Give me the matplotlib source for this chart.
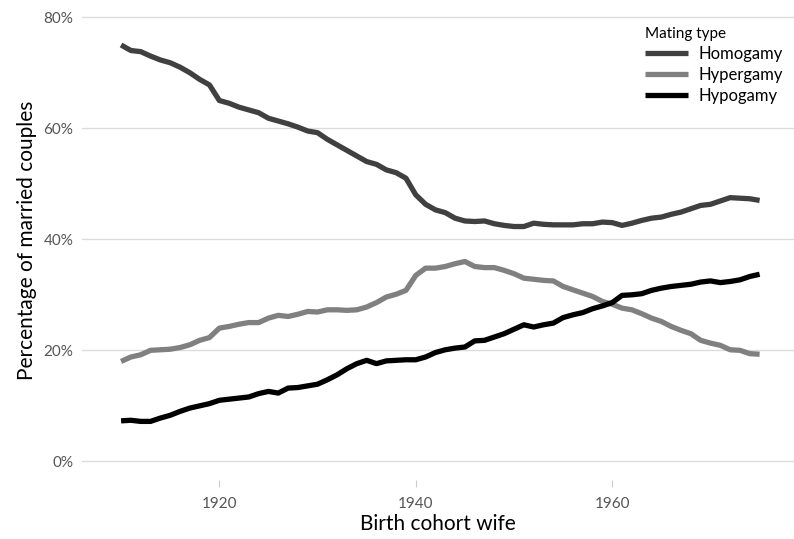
import matplotlib.pyplot as plt
from matplotlib.ticker import FuncFormatter

# birth cohort years of the wife
years = list(range(1910, 1976))

homogamy = [75.0, 74.0, 73.8, 73.0, 72.3, 71.8, 71.0, 70.0, 68.8, 67.8,
            65.0, 64.5, 63.8, 63.3, 62.8, 61.8, 61.3, 60.8, 60.2, 59.5,
            59.2, 58.0, 57.0, 56.0, 55.0, 54.0, 53.5, 52.5, 52.0, 51.0,
            48.0, 46.3, 45.3, 44.8, 43.8, 43.3, 43.2, 43.3, 42.8, 42.5,
            42.3, 42.3, 42.9, 42.7, 42.6, 42.6, 42.6, 42.8, 42.8, 43.1,
            43.0, 42.5, 42.9, 43.4, 43.8, 44.0, 44.5, 44.9, 45.5, 46.1,
            46.3, 46.9, 47.5, 47.4, 47.3, 47.0]

hypergamy = [18.0, 18.8, 19.2, 20.0, 20.1, 20.2, 20.5, 21.0, 21.8, 22.3,
             24.0, 24.3, 24.7, 25.0, 25.0, 25.8, 26.3, 26.1, 26.5, 27.0,
             26.9, 27.3, 27.3, 27.2, 27.3, 27.8, 28.6, 29.6, 30.1, 30.8,
             33.5, 34.8, 34.8, 35.1, 35.6, 36.0, 35.1, 34.9, 34.9, 34.4,
             33.8, 33.0, 32.8, 32.6, 32.5, 31.5, 30.9, 30.3, 29.7, 28.8,
             28.3, 27.6, 27.3, 26.6, 25.8, 25.2, 24.3, 23.6, 23.0, 21.8,
             21.3, 20.9, 20.1, 20.0, 19.4, 19.3]

hypogamy = [7.3, 7.4, 7.2, 7.2, 7.8, 8.3, 9.0, 9.6, 10.0, 10.4,
            11.0, 11.2, 11.4, 11.6, 12.2, 12.6, 12.3, 13.2, 13.3, 13.6,
            13.9, 14.7, 15.6, 16.7, 17.6, 18.2, 17.6, 18.1, 18.2, 18.3,
            18.3, 18.8, 19.6, 20.1, 20.4, 20.6, 21.7, 21.8, 22.4, 23.0,
            23.8, 24.6, 24.2, 24.6, 24.9, 25.9, 26.4, 26.8, 27.5, 28.0,
            28.6, 29.9, 30.0, 30.2, 30.8, 31.2, 31.5, 31.7, 31.9, 32.3,
            32.5, 32.2, 32.4, 32.7, 33.3, 33.7]

x_ticks = [1920, 1940, 1960]
y_ticks = [0, 20, 40, 60, 80]

plt.rcParams['font.family'] = ['Lato', 'DejaVu Sans']

fig = plt.figure(figsize=(7.94, 5.39), dpi=100)
ax = fig.add_axes([0.103, 0.109, 0.897, 0.891])

ax.plot(years, homogamy, color='#404040', linewidth=3.8, label='Homogamy', solid_capstyle='butt')
ax.plot(years, hypergamy, color='#808080', linewidth=3.8, label='Hypergamy', solid_capstyle='butt')
ax.plot(years, hypogamy, color='#000000', linewidth=3.8, label='Hypogamy', solid_capstyle='butt')

ax.set_xlim(1906.0, 1978.5)
ax.set_ylim(-3.4, 83.1)
ax.set_xticks(x_ticks)
ax.set_yticks(y_ticks)
ax.yaxis.set_major_formatter(FuncFormatter(lambda v, p: f'{int(v)}%'))

ax.grid(axis='y', color='#dcdcdc', linewidth=1.0)
ax.set_axisbelow(True)
for s in ax.spines.values():
    s.set_visible(False)
ax.tick_params(axis='x', length=5, color='#cccccc', labelsize=11, labelcolor='#555555', pad=7)
ax.tick_params(axis='y', length=0, labelsize=11, labelcolor='#555555', pad=6)

ax.set_xlabel('Birth cohort wife', fontsize=15, labelpad=2)
ax.set_ylabel('Percentage of married couples', fontsize=15, labelpad=5)

leg = ax.legend(title='Mating type', loc='upper right', bbox_to_anchor=(1.005, 0.975),
                frameon=False, fontsize=12, title_fontsize=11,
                handlelength=2.6, handletextpad=0.6, labelspacing=0.3)
leg._legend_box.align = 'left'

fig.savefig('out.png', dpi=100)
